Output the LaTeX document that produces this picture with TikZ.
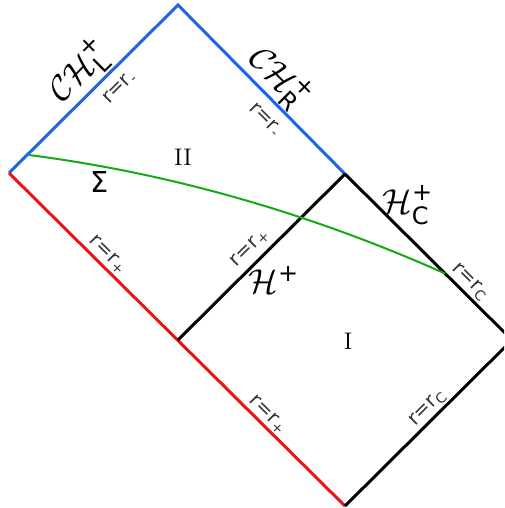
\documentclass[tikz,border=0pt]{standalone}
\usepackage{amsmath}
\usepackage{fontspec}
\setsansfont{DejaVu Sans}
\usetikzlibrary{calc}
\definecolor{cauchyblue}{RGB}{30,100,230}
\definecolor{horizonred}{RGB}{235,20,20}
\definecolor{sigmagreen}{RGB}{20,170,20}
\begin{document}
\begin{tikzpicture}[x=0.5pt, y=-0.5pt, line join=miter,
    rlab/.style={font=\sffamily\normalsize, text=black!80, inner sep=1pt},
    hlab/.style={font=\LARGE, inner sep=1pt}]
  \clip (0,0) rectangle (504,508);
  % corners of the diagram
  \coordinate (top) at (178,5);
  \coordinate (left) at (9,173);
  \coordinate (midright) at (345,174);
  \coordinate (centre) at (178,340);
  \coordinate (right) at (512,340);
  \coordinate (bottom) at (345,506);
  \draw[cauchyblue, line width=1.5pt] (left) -- (top) -- (midright);
  \draw[horizonred, line width=1.5pt] (left) -- (bottom);
  \draw[line width=1.5pt] (midright) -- (centre);
  \draw[line width=1.5pt] (midright) -- (right) -- (bottom);
  % Cauchy slice
  \coordinate (sigmaL) at (29,155);
  \coordinate (sigmaR) at ($(midright)!0.6!(right)$);
  \draw[sigmagreen, line width=1pt] (sigmaL) .. controls (168,173) and (307,212) .. (sigmaR);
  % labels
  \node[hlab, rotate=45] (chl) at (80,71) {$\mathcal{CH}^{\textsf{+}}_{\textsf{L}}$};
  \node[hlab, rotate=-45] (chr) at (280,78) {$\mathcal{CH}^{\textsf{+}}_{\textsf{R}}$};
  \node[hlab] (hc) at (408,205) {$\mathcal{H}^{\textsf{+}}_{\textsf{C}}$};
  \node[hlab] (hp) at (274,280) {$\mathcal{H}^{\textsf{+}}$};
  \node[font=\sffamily\Large] (sigma) at (100,182) {Σ};
  \node[font=\large] (regII) at (183,157) {II};
  \node[font=\large] (regI) at (348,341) {I};
  \node[rlab, rotate=45] (rml) at (120,88) {r=r\textsubscript{-}};
  \node[rlab, rotate=-45] (rmr) at (265,120) {r=r\textsubscript{-}};
  \node[rlab, rotate=-45] (rpa) at (108,255) {r=r\textsubscript{+}};
  \node[rlab, rotate=45] (rpb) at (250,248) {r=r\textsubscript{+}};
  \node[rlab, rotate=-45] (rpc) at (268,415) {r=r\textsubscript{+}};
  \node[rlab, rotate=-45] (rca) at (470,282) {r=r\textsubscript{C}};
  \node[rlab, rotate=45] (rcb) at (428,408) {r=r\textsubscript{C}};
\end{tikzpicture}
\end{document}
